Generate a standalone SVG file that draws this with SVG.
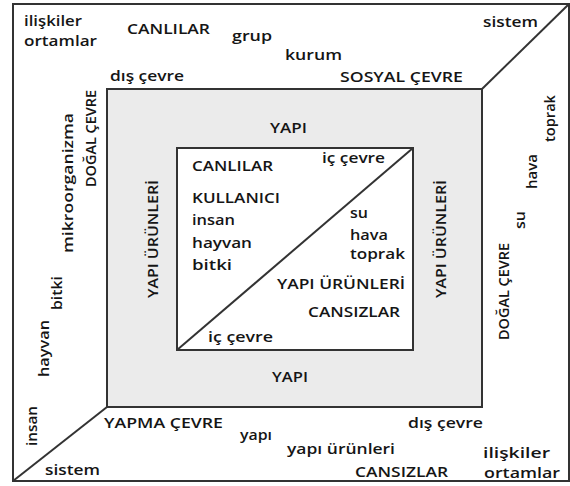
<svg xmlns="http://www.w3.org/2000/svg" width="570" height="486" viewBox="0 0 570 486">
<style>
.ln{fill:none;stroke:#333;stroke-width:2}
text{font-family:"Open Sans","Liberation Sans",sans-serif;font-size:15px;fill:#151515;font-weight:600}
</style>
<rect x="0" y="0" width="570" height="486" fill="#fff"/>
<g id="outer">
<rect class="ln" x="13" y="4" width="556" height="477"/>
</g>
<g id="middle">
<rect x="107" y="89" width="375" height="318" fill="#ebebeb" stroke="#333" stroke-width="2"/>
</g>
<g id="inner">
<rect x="177" y="148" width="236" height="202" fill="#fff" stroke="#333" stroke-width="2"/>
</g>
<g id="connectors">
<line class="ln" x1="482" y1="89" x2="569" y2="4"/>
<line class="ln" x1="107" y1="407" x2="13" y2="481"/>
<line class="ln" x1="177" y1="350" x2="413" y2="148"/>
</g>
<g id="outer-labels">
<text x="24" y="26" textLength="58" lengthAdjust="spacingAndGlyphs">ilişkiler</text>
<text x="24" y="46" textLength="73" lengthAdjust="spacingAndGlyphs">ortamlar</text>
<text x="127" y="34" textLength="83" lengthAdjust="spacingAndGlyphs">CANLILAR</text>
<text x="232" y="41" textLength="40" lengthAdjust="spacingAndGlyphs">grup</text>
<text x="285" y="60" textLength="57" lengthAdjust="spacingAndGlyphs">kurum</text>
<text x="483" y="27" textLength="55" lengthAdjust="spacingAndGlyphs">sistem</text>
<text x="110" y="81" textLength="74" lengthAdjust="spacingAndGlyphs">dış çevre</text>
<text x="340" y="82" textLength="123" lengthAdjust="spacingAndGlyphs">SOSYAL ÇEVRE</text>
<text transform="translate(96,187) rotate(-90)" textLength="97" lengthAdjust="spacingAndGlyphs">DOĞAL ÇEVRE</text>
<text transform="translate(73,253) rotate(-90)" textLength="140" lengthAdjust="spacingAndGlyphs">mikroorganizma</text>
<text transform="translate(62,310) rotate(-90)" textLength="34" lengthAdjust="spacingAndGlyphs">bitki</text>
<text transform="translate(49,377) rotate(-90)" textLength="57" lengthAdjust="spacingAndGlyphs">hayvan</text>
<text transform="translate(37,446) rotate(-90)" textLength="40" lengthAdjust="spacingAndGlyphs">insan</text>
<text transform="translate(555,142) rotate(-90)" textLength="47" lengthAdjust="spacingAndGlyphs">toprak</text>
<text transform="translate(537,189) rotate(-90)" textLength="35" lengthAdjust="spacingAndGlyphs">hava</text>
<text transform="translate(525,229) rotate(-90)" textLength="18" lengthAdjust="spacingAndGlyphs">su</text>
<text transform="translate(509,340) rotate(-90)" textLength="97" lengthAdjust="spacingAndGlyphs">DOĞAL ÇEVRE</text>
<text x="104" y="428" textLength="119" lengthAdjust="spacingAndGlyphs">YAPMA ÇEVRE</text>
<text x="240" y="440" textLength="32" lengthAdjust="spacingAndGlyphs">yapı</text>
<text x="287" y="454" textLength="108" lengthAdjust="spacingAndGlyphs">yapı ürünleri</text>
<text x="408" y="428" textLength="75" lengthAdjust="spacingAndGlyphs">dış çevre</text>
<text x="483" y="458" textLength="67" lengthAdjust="spacingAndGlyphs">ilişkiler</text>
<text x="484" y="478" textLength="76" lengthAdjust="spacingAndGlyphs">ortamlar</text>
<text x="355" y="477" textLength="93" lengthAdjust="spacingAndGlyphs">CANSIZLAR</text>
<text x="45" y="475" textLength="55" lengthAdjust="spacingAndGlyphs">sistem</text>
</g>
<g id="middle-labels">
<text x="270" y="133" textLength="37" lengthAdjust="spacingAndGlyphs">YAPI</text>
<text x="272" y="382" textLength="36" lengthAdjust="spacingAndGlyphs">YAPI</text>
<text transform="translate(158,298) rotate(-90)" textLength="118" lengthAdjust="spacingAndGlyphs">YAPI ÜRÜNLERİ</text>
<text transform="translate(446,298) rotate(-90)" textLength="118" lengthAdjust="spacingAndGlyphs">YAPI ÜRÜNLERİ</text>
</g>
<g id="inner-labels">
<text x="192" y="171" textLength="81" lengthAdjust="spacingAndGlyphs">CANLILAR</text>
<text x="322" y="163" textLength="63" lengthAdjust="spacingAndGlyphs">iç çevre</text>
<text x="192" y="203" textLength="88" lengthAdjust="spacingAndGlyphs">KULLANICI</text>
<text x="192" y="225" textLength="43" lengthAdjust="spacingAndGlyphs">insan</text>
<text x="192" y="248" textLength="60" lengthAdjust="spacingAndGlyphs">hayvan</text>
<text x="192" y="270" textLength="40" lengthAdjust="spacingAndGlyphs">bitki</text>
<text x="350" y="218" textLength="18" lengthAdjust="spacingAndGlyphs">su</text>
<text x="350" y="240" textLength="38" lengthAdjust="spacingAndGlyphs">hava</text>
<text x="350" y="259" textLength="55" lengthAdjust="spacingAndGlyphs">toprak</text>
<text x="277" y="289" textLength="128" lengthAdjust="spacingAndGlyphs">YAPI ÜRÜNLERİ</text>
<text x="308" y="317" textLength="92" lengthAdjust="spacingAndGlyphs">CANSIZLAR</text>
<text x="208" y="342" textLength="65" lengthAdjust="spacingAndGlyphs">iç çevre</text>
</g>
</svg>
